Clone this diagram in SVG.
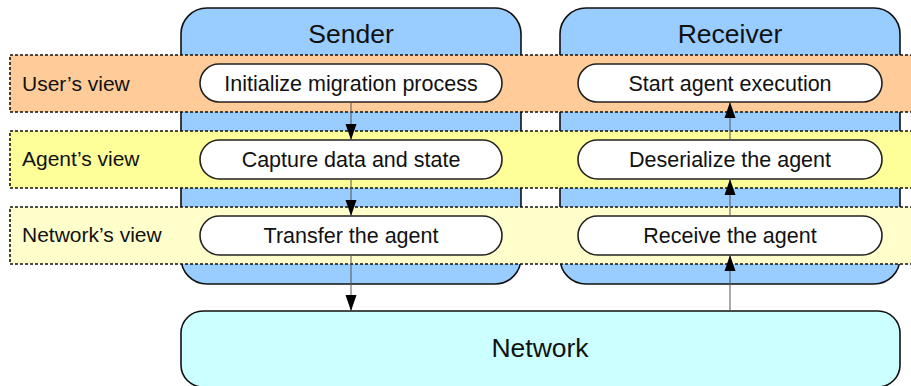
<svg xmlns="http://www.w3.org/2000/svg" width="911" height="386" viewBox="0 0 911 386">
  <style>
    text { font-family: "Liberation Sans", Arial, sans-serif; fill: #111; }
    .host { fill: #99CCFF; stroke: #111; stroke-width: 1.6; }
    .band { stroke: #111; stroke-width: 1.6; stroke-dasharray: 3 2; }
    .pill { fill: #ffffff; stroke: #222; stroke-width: 1.6; }
    .title { font-size: 26.5px; text-anchor: middle; }
    .label { font-size: 21px; }
    .step { font-size: 21.5px; text-anchor: middle; }
    .link { stroke: #555; stroke-width: 1; fill: none; marker-end: url(#head); }
  </style>
  <defs>
    <marker id="head" markerWidth="16" markerHeight="12" refX="16" refY="6" orient="auto" markerUnits="userSpaceOnUse" overflow="visible">
      <path d="M0,0.5 L16,6 L0,11.5 Z" fill="#000"/>
    </marker>
  </defs>

  <!-- hosts -->
  <g id="sender">
    <rect class="host" x="181" y="8" width="340" height="276" rx="26"/>
    <text class="title" x="351" y="43">Sender</text>
  </g>
  <g id="receiver">
    <rect class="host" x="560" y="8" width="340" height="276" rx="26"/>
    <text class="title" x="730" y="43">Receiver</text>
  </g>

  <!-- view layers -->
  <g id="users-view">
    <path class="band" fill="#FFCC99" d="M913,55 H10 V112 H913"/>
    <text class="label" x="22" y="91">User’s view</text>
  </g>
  <g id="agents-view">
    <path class="band" fill="#FFFF99" d="M913,131 H10 V188 H913"/>
    <text class="label" x="22" y="166">Agent’s view</text>
  </g>
  <g id="networks-view">
    <path class="band" fill="#FFFFCC" d="M913,207 H10 V264 H913"/>
    <text class="label" x="22" y="242">Network’s view</text>
  </g>

  <!-- sender steps -->
  <g id="init">
    <rect class="pill" x="200" y="64" width="302" height="38" rx="19"/>
    <text class="step" x="351" y="90.5">Initialize migration process</text>
  </g>
  <g id="capture">
    <rect class="pill" x="200" y="140" width="302" height="39" rx="19.5"/>
    <text class="step" x="351" y="166.5">Capture data and state</text>
  </g>
  <g id="transfer">
    <rect class="pill" x="200" y="216" width="302" height="39" rx="19.5"/>
    <text class="step" x="351" y="242.5">Transfer the agent</text>
  </g>

  <!-- receiver steps -->
  <g id="start">
    <rect class="pill" x="578" y="64" width="304" height="38" rx="19"/>
    <text class="step" x="730" y="90.5">Start agent execution</text>
  </g>
  <g id="deserialize">
    <rect class="pill" x="578" y="140" width="304" height="39" rx="19.5"/>
    <text class="step" x="730" y="166.5">Deserialize the agent</text>
  </g>
  <g id="receive">
    <rect class="pill" x="578" y="216" width="304" height="39" rx="19.5"/>
    <text class="step" x="730" y="242.5">Receive the agent</text>
  </g>

  <!-- network -->
  <g id="network">
    <rect x="181" y="311" width="719" height="76" rx="22" fill="#CCFFFF" stroke="#111" stroke-width="1.6"/>
    <text class="title" x="540" y="357">Network</text>
  </g>

  <!-- flow -->
  <g id="connectors">
    <line class="link" x1="351" y1="102" x2="351" y2="140"/>
    <line class="link" x1="351" y1="179" x2="351" y2="216"/>
    <line class="link" x1="351" y1="255" x2="351" y2="311"/>
    <line class="link" x1="730" y1="311" x2="730" y2="255"/>
    <line class="link" x1="730" y1="216" x2="730" y2="179"/>
    <line class="link" x1="730" y1="140" x2="730" y2="102"/>
  </g>
</svg>
